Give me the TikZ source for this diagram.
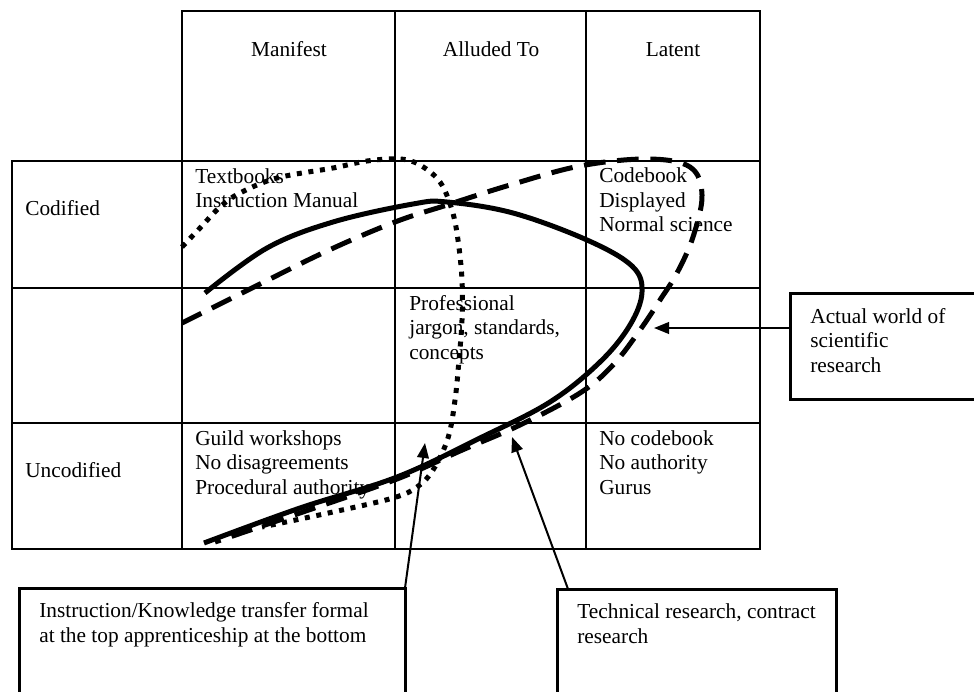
\documentclass[tikz,border=0pt]{standalone}
\usepackage{fontspec}
\setmainfont{Liberation Serif}
\usetikzlibrary{calc,arrows.meta}

\tikzset{
  tableline/.style={line width=1.5pt, line cap=rect},
  boxline/.style={line width=1.8pt},
  celltext/.style={anchor=base west, inner sep=0pt, align=left, font=\fontsize{12.8}{14.7}\selectfont},
  pointer/.style={line width=1.2pt, -{Triangle[length=9pt,width=7pt]}},
  solidcurve/.style={line width=3pt},
  dashcurve/.style={line width=3pt, dash pattern=on 13pt off 7pt},
  dotcurve/.style={line width=3pt, dash pattern=on 3pt off 4pt},
}

\begin{document}
\begin{tikzpicture}[x=0.6pt,y=-0.6pt]
		\useasboundingbox (0,0) rectangle (974,692);
		\clip (0,0) rectangle (974,692);
		% table lines
		\draw[tableline] (182,11) -- (760,11);
		\foreach \y in {161,288,423,549} \draw[tableline] (12,\y) -- (760,\y);
		\draw[tableline] (12,161) -- (12,549);
		\foreach \x in {182,395,586,760} \draw[tableline] (\x,11) -- (\x,549);
		% headings
		\node[celltext, anchor=base] (manifest) at (289,57) {Manifest};
		\node[celltext, anchor=base] (alluded) at (491,57) {Alluded To};
		\node[celltext, anchor=base] (latent) at (673,57) {Latent};
		\node[celltext] (codified) at (25,216) {Codified};
		\node[celltext] (uncodified) at (25,477) {Uncodified};
		% cells (placed at the baseline of their last line)
		\node[celltext] (textbooks) at (195,208) {Textbooks\\Instruction Manual};
		\node[celltext] (codebook) at (599,232) {Codebook\\Displayed\\Normal science};
		\node[celltext] (jargon) at (409,359) {Professional\\jargon, standards,\\concepts};
		\node[celltext] (guild) at (195,494) {Guild workshops\\No disagreements\\Procedural authority};
		\node[celltext] (nocodebook) at (599,494) {No codebook\\No authority\\Gurus};
		% the three curves
		\draw[dotcurve] plot[smooth, tension=0.6] coordinates {(182,247) (200,228) (220,207) (240,193) (277,178) (333,168) (367,161) (400,159) (420,165) (440,182) (452,210) (458,240) (462,280) (462,320) (459,360) (455,400) (448,438) (433,470) (417,487) (393,498) (333,512) (262,527)};
		\draw[dashcurve] plot[smooth, tension=0.6] coordinates {(182,323) (250,289) (327,251) (395,222) (447,205) (510,185) (580,166) (647,159) (690,167) (702,195) (693,237) (677,273) (660,300) (640,330) (613,365) (580,393) (520,425) (460,451) (397,479) (300,513) (215,542)};
		\draw[solidcurve] plot[smooth, tension=0.6] coordinates {(204,543) (300,508) (397,477) (480,438) (550,402) (600,362) (630,325) (642,292) (632,266) (587,240) (513,213) (447,202) (413,204) (333,222) (267,248) (205,293)};
		% label boxes
		\draw[boxline] (19,588) rectangle (405,710);
		\draw[boxline] (557,589) rectangle (836,710);
		\draw[boxline] (790,293) rectangle (990,399);
		\node[celltext] (transfer) at (39,642) {Instruction/Knowledge transfer formal\\at the top apprenticeship at the bottom};
		\node[celltext] (technical) at (577,643) {Technical research, contract\\research};
		\node[celltext] (actual) at (810,372) {Actual world of\\scientific\\research};
		% pointers
		\coordinate (transfertail) at (405,588);
		\coordinate (transfertip) at (425,443);
		\coordinate (techtail) at (568,589);
		\coordinate (techtip) at (512,437);
		\coordinate (actualtail) at (790,328);
		\coordinate (actualtip) at (654,328);
		\draw[pointer] (transfertail) -- (transfertip);
		\draw[pointer] (techtail) -- (techtip);
		\draw[pointer] (actualtail) -- (actualtip);
		\end{tikzpicture}
\end{document}
